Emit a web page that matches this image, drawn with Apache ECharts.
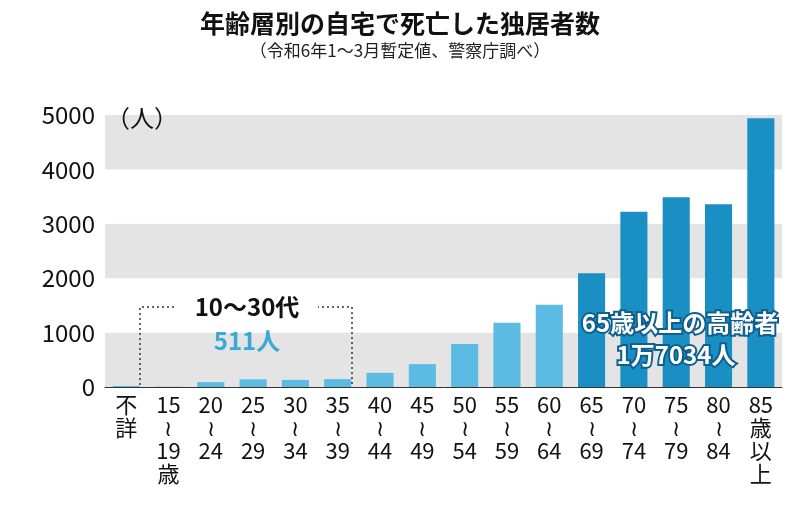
<![CDATA[<!DOCTYPE html>
<html><head><meta charset="utf-8">
<script src="https://cdn.jsdelivr.net/npm/echarts@6/dist/echarts.min.js"></script>
<style>html,body{margin:0;background:#fff}#c{width:800px;height:508px}</style>
</head><body><div id="c"></div>
<script>
const categories = ["不\n詳","15\n≀\n19\n歳","20\n≀\n24","25\n≀\n29","30\n≀\n34","35\n≀\n39","40\n≀\n44","45\n≀\n49","50\n≀\n54","55\n≀\n59","60\n≀\n64","65\n≀\n69","70\n≀\n74","75\n≀\n79","80\n≀\n84","85\n歳\n以\n上"];
const values = [20,5,90,140,130,145,260,420,790,1180,1510,2090,3220,3490,3360,4940];
const elderly = [false,false,false,false,false,false,false,false,false,false,false,true,true,true,true,true];
const yTicks = [0,1000,2000,3000,4000,5000];
const F = '"Noto Sans CJK JP", sans-serif';
const chart = echarts.init(document.getElementById('c'));
chart.setOption({
  animation:false,
  title:{text:'年齢層別の自宅で死亡した独居者数',subtext:'（令和6年1～3月暫定値、警察庁調べ）',left:'center',top:6,itemGap:6,
    textStyle:{fontFamily:F,fontSize:25,fontWeight:'bold',color:'#111'},
    subtextStyle:{fontFamily:F,fontSize:17,color:'#222'}},
  grid:{left:105,right:18,top:115,bottom:121},
  xAxis:{type:'category',data:categories,axisTick:{show:false},axisLine:{lineStyle:{color:'#333'}},
    axisLabel:{interval:0,fontFamily:F,fontSize:22,color:'#111',lineHeight:23,margin:6}},
  yAxis:{type:'value',min:0,max:5000,interval:1000,
    axisLabel:{fontFamily:F,fontSize:24,color:'#111',margin:10,formatter:v=>yTicks.includes(v)?String(v):''},
    splitLine:{show:false},splitArea:{show:true,areaStyle:{color:['#e4e4e4','#ffffff']}}},
  series:[{type:'bar',barWidth:'64%',
    data:values.map((v,i)=>({value:v,itemStyle:{color:elderly[i]?'#1a8fc4':'#5bbbe3'}}))}],
  graphic:[
    {type:'text',left:106,top:106,z:100,style:{text:'（人）',fontFamily:F,fontSize:24,fill:'#111'}},
    {type:'polyline',z:100,shape:{points:[[140,385],[140,307],[352,307],[352,385]]},style:{stroke:'#333',lineWidth:1.5,lineDash:[2,3],fill:null}},
    {type:'rect',z:101,shape:{x:176,y:294,width:142,height:26},style:{fill:'#fff'}},
    {type:'text',x:247,y:307,z:102,style:{text:'10～30代',fontFamily:F,fontSize:24,fontWeight:'bold',fill:'#111',align:'center',verticalAlign:'middle'}},
    {type:'text',x:247,y:341,z:102,style:{text:'511人',fontFamily:F,fontSize:24,fontWeight:'bold',fill:'#3aa9d8',align:'center',verticalAlign:'middle'}},
    {type:'text',x:680,y:323,z:102,style:{text:'65歳以上の高齢者',fontFamily:F,fontSize:24,fontWeight:'bold',fill:'#fff',stroke:'#0f5f8e',lineWidth:4,align:'center',verticalAlign:'middle'}},
    {type:'text',x:676,y:355,z:102,style:{text:'1万7034人',fontFamily:F,fontSize:24,fontWeight:'bold',fill:'#fff',stroke:'#0f5f8e',lineWidth:4,align:'center',verticalAlign:'middle'}}
  ]
});
</script></body></html>]]>
